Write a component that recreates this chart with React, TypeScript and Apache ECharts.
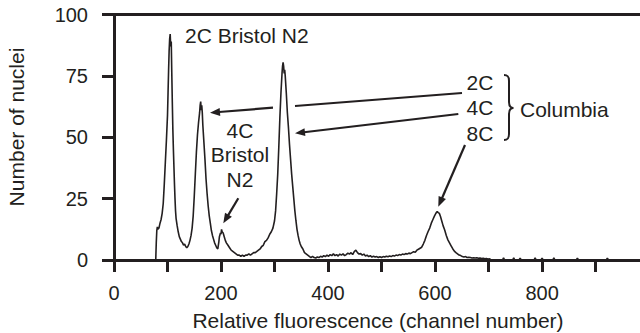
import React, { useEffect, useRef } from "react";
import * as echarts from "echarts";

// Flow-cytometry histogram: channel (relative fluorescence) vs number of nuclei
const channels = [
  76, 78, 79, 80, 81, 82, 84, 86, 88, 90, 92, 94, 96, 98, 100, 101, 102, 103, 104, 105, 106, 107, 108, 109, 110,
  111, 112, 113, 114, 115, 116, 118, 120, 122, 124, 126, 128, 130, 132, 134, 136, 138, 140, 142, 144, 146, 148,
  150, 152, 154, 156, 158, 160, 161, 162, 163, 164, 165, 166, 168, 170, 172, 174, 176, 178, 180, 182, 184, 186,
  188, 190, 192, 194, 196, 197, 199, 200, 201, 202, 204, 206, 208, 210, 213, 216, 219, 222, 225, 228, 231, 234,
  237, 240, 243, 246, 249, 252, 255, 258, 261, 264, 267, 270, 273, 276, 279, 282, 285, 288, 291, 294, 297, 300,
  302, 304, 306, 308, 310, 312, 314, 315, 316, 317, 318, 319, 320, 322, 324, 326, 328, 330, 332, 334, 336, 338,
  340, 342, 344, 346, 348, 350, 353, 356, 359, 362, 365, 368, 371, 374, 377, 380, 383, 386, 389, 392, 395, 398,
  401, 404, 407, 410, 413, 416, 419, 422, 425, 428, 431, 434, 437, 440, 443, 446, 449, 452, 455, 458, 461, 464,
  467, 470, 473, 476, 479, 482, 485, 488, 491, 494, 497, 500, 503, 506, 509, 512, 515, 518, 521, 524, 527, 530,
  533, 536, 539, 542, 545, 548, 551, 554, 557, 560, 563, 566, 569, 572, 575, 578, 581, 584, 587, 590, 593, 596,
  599, 602, 604, 606, 608, 610, 612, 615, 618, 621, 624, 627, 630, 633, 636, 639, 642, 645, 648, 651, 654, 657,
  660, 663, 666, 669, 672, 675, 678, 681, 684, 687, 690, 693, 696, 699, 702, 705, 726, 728, 730, 745, 747, 749,
  757, 759, 761, 785, 787, 789, 798, 800, 802, 820, 822, 824, 864, 866, 868, 920, 922, 924, 940,
];

const nuclei = [
  0, 0, 7, 12, 13.5, 12.5, 13, 15, 16.5, 19, 23, 31, 40, 49, 59, 68, 77, 85, 90, 92, 87, 89, 76, 64, 53,
  45, 38, 31, 25, 20, 17, 14, 11.5, 9.5, 8.5, 7.5, 7, 6, 6.5, 5.5, 5, 5.5, 6.5, 8, 10, 13, 18,
  26, 35, 44, 51, 56, 60, 63, 64.5, 61, 63, 60, 55, 48, 41, 33, 27, 22, 18, 15, 12, 10, 8.5,
  7, 6, 5, 4.5, 7.5, 9.5, 11, 10.5, 12.5, 11.5, 11, 9.5, 8, 7, 6, 5, 4, 3.5, 3, 2.5, 2, 2,
  1.5, 2, 1.5, 2, 2, 2.5, 2, 2.5, 3, 3, 3.5, 4, 4.5, 5.5, 6, 7.5, 8, 9, 10.5, 11.5, 13, 16,
  20, 27, 35, 46, 58, 68, 76, 79, 80.5, 79, 76, 77.5, 75, 68, 60, 54, 47, 41, 35, 30, 25, 20,
  16, 12.5, 10, 8, 6.5, 5.5, 4.5, 3, 2.5, 2, 1.5, 1, 1.5, 1, 0.8, 1.2, 1, 1.5, 1.2, 1.8, 1.4, 2,
  1.5, 2.2, 1.8, 2.5, 1.8, 2.2, 1.6, 2.4, 2, 2.5, 1.8, 2.2, 2.8, 2.4, 3, 2.2, 3.4, 4, 3, 2.4, 2.6, 2,
  2.4, 1.6, 2, 1.4, 1.8, 1.2, 1.5, 1.2, 1.4, 1, 1.3, 1, 1.4, 1.2, 1.5, 1.3, 1.6, 1.4, 1.8, 1.6, 2, 1.8,
  2.2, 2, 2.4, 2.2, 2.6, 2.4, 2.8, 2.6, 3, 3.4, 3.2, 4, 4.4, 4.8, 5.2, 6.5, 8, 10, 11.6, 13, 15, 16.5,
  18, 19.2, 19.7, 19.3, 19, 17.8, 16.3, 14, 12.2, 10, 8.2, 7, 5.8, 4.6, 3.6, 3, 2.5, 2, 1.8, 1.4, 1.2, 1.4,
  1, 1.1, 1, 0.8, 0.9, 0.8, 0.9, 0.7, 0.8, 0.6, 0.7, 0.5, 0.6, 0.4, 0.5, 0, 0, 0.9, 0, 0, 0.9, 0,
  0, 0.8, 0, 0, 0.9, 0, 0, 0.8, 0, 0, 0.9, 0, 0, 0.8, 0, 0, 0.8, 0, 0,
];

const yTickValues = [0, 25, 50, 75, 100];
const xTickValues = [0, 100, 200, 300, 400, 500, 600, 700, 800, 900];
const xLabelValues = [0, 200, 400, 600, 800];

const INK = "#231f20";
const FONT = '"Liberation Sans", Arial, Helvetica, sans-serif';

echarts.graphic.registerShape(
  "brace",
  echarts.graphic.extendPath(
    "M0,0 C4,0 5,2 5,6 L5,27 C5,31 6,33 9.5,33 C6,33 5,35 5,39 L5,59 C5,63 4,65 0,65",
    {}
  )
);

function arrow(x1: number, y1: number, tx: number, ty: number) {
  const dx = tx - x1;
  const dy = ty - y1;
  const len = Math.hypot(dx, dy);
  const ux = dx / len;
  const uy = dy / len;
  const headLen = 10;
  const headHalf = 4;
  const bx = tx - ux * headLen;
  const by = ty - uy * headLen;
  return [
    {
      type: "line",
      shape: { x1, y1, x2: bx + ux * 1, y2: by + uy * 1 },
      style: { stroke: INK, lineWidth: 2.2 },
    },
    {
      type: "polygon",
      shape: {
        points: [
          [tx, ty],
          [bx - uy * headHalf, by + ux * headHalf],
          [bx + uy * headHalf, by - ux * headHalf],
        ],
      },
      style: { fill: INK },
    },
  ];
}

function label(text: string, x: number, y: number, align: string = "left") {
  return {
    type: "text",
    x,
    y,
    style: {
      text,
      fill: INK,
      fontSize: 21,
      fontFamily: FONT,
      textAlign: align,
      textVerticalAlign: "middle",
    },
  };
}

export default function App() {
  const ref = useRef<HTMLDivElement>(null);

  useEffect(() => {
    if (!ref.current) return;
    const chart = echarts.init(ref.current, null, { renderer: "svg" });

    const axisLine = { show: true, lineStyle: { color: INK, width: 3 } };

    chart.setOption({
      animation: false,
      backgroundColor: "#ffffff",
      grid: { left: 114, right: 0, top: 14.5, bottom: 73 },
      xAxis: [
        {
          type: "value",
          min: 0,
          max: 983,
          interval: 100,
          axisLine: { ...axisLine, onZero: false },
          axisTick: {
            show: true,
            inside: false,
            length: 12,
            lineStyle: { color: INK, width: 3 },
            customValues: xTickValues,
          },
          axisLabel: {
            color: INK,
            fontSize: 20,
            fontFamily: FONT,
            margin: 23,
            customValues: xLabelValues,
          },
          splitLine: { show: false },
        },
        {
          type: "value",
          position: "top",
          min: 0,
          max: 983,
          axisLine: { ...axisLine, onZero: false },
          axisTick: { show: false },
          axisLabel: { show: false },
          splitLine: { show: false },
        },
      ],
      yAxis: {
        type: "value",
        min: 0,
        max: 100,
        interval: 25,
        axisLine,
        axisTick: {
          show: true,
          length: 12,
          lineStyle: { color: INK, width: 3 },
          customValues: yTickValues,
        },
        axisLabel: {
          color: INK,
          fontSize: 20,
          fontFamily: FONT,
          margin: 26,
          customValues: yTickValues,
        },
        splitLine: { show: false },
      },
      series: [
        {
          type: "line",
          xAxisIndex: 0,
          data: channels.map((c, i) => [c, nuclei[i]]),
          showSymbol: false,
          symbol: "none",
          lineStyle: { color: INK, width: 1.6 },
          z: 3,
        },
      ],
      graphic: [
        {
          type: "text",
          x: 16,
          y: 127,
          rotation: Math.PI / 2,
          style: {
            text: "Number of nuclei",
            fill: INK,
            fontSize: 21,
            fontFamily: FONT,
            textAlign: "center",
            textVerticalAlign: "middle",
          },
        },
        label("Relative fluorescence (channel number)", 378, 320.5, "center"),
        label("2C Bristol N2", 185, 35.8),
        label("2C", 466.5, 82),
        label("4C", 466.5, 107.5),
        label("8C", 466.5, 133),
        label("Columbia", 520, 109.7),
        label("4C", 240, 130.8, "center"),
        label("Bristol", 240, 154.2, "center"),
        label("N2", 240, 179.2, "center"),
        {
          type: "brace",
          x: 504,
          y: 75,
          style: { fill: "none", stroke: INK, lineWidth: 2 },
        },
        // 2C arrow passes behind the 4C Columbia peak with a small gap
        {
          type: "line",
          shape: { x1: 462, y1: 93, x2: 295, y2: 106 },
          style: { stroke: INK, lineWidth: 2.2 },
        },
        ...arrow(273, 107.7, 210, 112.7),
        ...arrow(458.3, 114, 295, 133.3),
        ...arrow(465, 145, 438.3, 206.7),
        ...arrow(238.3, 198.3, 223.3, 223.3),
      ],
    });

    return () => chart.dispose();
  }, []);

  return (
    <div
      ref={ref}
      style={{ position: "fixed", left: 0, top: 0, width: 640, height: 333, background: "#fff" }}
    />
  );
}
